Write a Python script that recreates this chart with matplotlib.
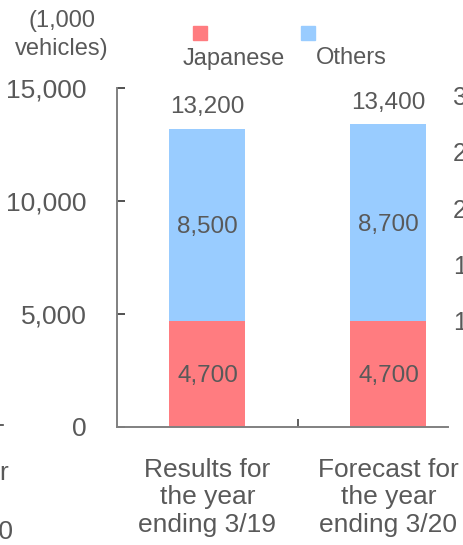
import matplotlib.pyplot as plt
from matplotlib.patches import Rectangle

plt.rcParams['font.family'] = ['Liberation Sans', 'DejaVu Sans']

# unit sales (1,000 vehicles)
periods = ["Results for\nthe year\nending 3/19", "Forecast for\nthe year\nending 3/20"]
japanese = [4700, 4700]
others = [8500, 8700]
totals = [13200, 13400]
yticks = [0, 5000, 10000, 15000]

red = '#FF7C80'
blue = '#99CCFF'
grey = '#595959'

fig = plt.figure(figsize=(4.64, 5.45), dpi=100)
ax = fig.add_axes([117 / 464, 118 / 545, 331 / 464, 339 / 545])

x = list(range(len(periods)))
w = 0.42
ax.bar(x, japanese, width=w, color=red)
ax.bar(x, others, width=w, bottom=japanese, color=blue)

for i in x:
    ax.text(i, japanese[i] / 2, f"{japanese[i]:,}", ha='center',
            va='center_baseline', fontsize=17.5, color=grey)
    ax.text(i, japanese[i] + others[i] / 2, f"{others[i]:,}", ha='center',
            va='center_baseline', fontsize=17.5, color=grey)
    ax.text(i, totals[i] + 1050, f"{totals[i]:,}", ha='center',
            va='center_baseline', fontsize=17.5, color=grey)

ax.set_xlim(-0.5, 1.329)
ax.set_ylim(0, 15000)
ax.set_yticks(yticks)
ax.set_yticklabels([f"{v:,}" for v in yticks])
ax.tick_params(axis='y', direction='in', length=6, width=1.2, color='#333333',
               labelsize=19, labelcolor=grey, pad=22)
ax.set_xticks([0.5])
ax.set_xticklabels([''])
ax.tick_params(axis='x', direction='in', length=6, width=1.2, color='#444444')
for i, lab in enumerate(periods):
    ax.text(i, -1350, lab, ha='center', va='top', fontsize=19, color=grey,
            linespacing=1.2)

for s in ['top', 'right']:
    ax.spines[s].set_visible(False)
for s in ['left', 'bottom']:
    ax.spines[s].set_color('#808080')
    ax.spines[s].set_linewidth(1.4)

# unit and legend
fig.text(62 / 464, 1 - 35 / 545, "(1,000\nvehicles)", ha='center', va='center',
         fontsize=17, color=grey, linespacing=1.3)
fig.patches.append(Rectangle((193 / 464, 1 - 40 / 545), 14 / 464, 14 / 545,
                             transform=fig.transFigure, color=red))
fig.patches.append(Rectangle((301 / 464, 1 - 40 / 545), 14 / 464, 14 / 545,
                             transform=fig.transFigure, color=blue))
fig.text(234 / 464, 1 - 56 / 545, "Japanese", ha='center', va='center_baseline',
         fontsize=17, color=grey)
fig.text(351 / 464, 1 - 56 / 545, "Others", ha='center', va='center_baseline',
         fontsize=17, color=grey)

# edges of the neighbouring charts
fig.text(9 / 464, 1 - 470 / 545, "Forecast for", ha='right',
         va='center_baseline', fontsize=19, color=grey)
fig.text(13 / 464, 1 - 530 / 545, "ending 3/20", ha='right',
         va='center_baseline', fontsize=19, color=grey)
fig.add_artist(plt.Line2D([0, 3 / 464], [1 - 425 / 545] * 2, color='#444444',
                          lw=1.2, transform=fig.transFigure))
for k, lab in enumerate(["30,000", "25,000", "20,000", "15,000", "10,000"]):
    fig.text(453 / 464, 1 - (95 + 56.3 * k) / 545, lab, ha='left',
             va='center_baseline', fontsize=18, color=grey)

fig.savefig('out.png', dpi=100)
